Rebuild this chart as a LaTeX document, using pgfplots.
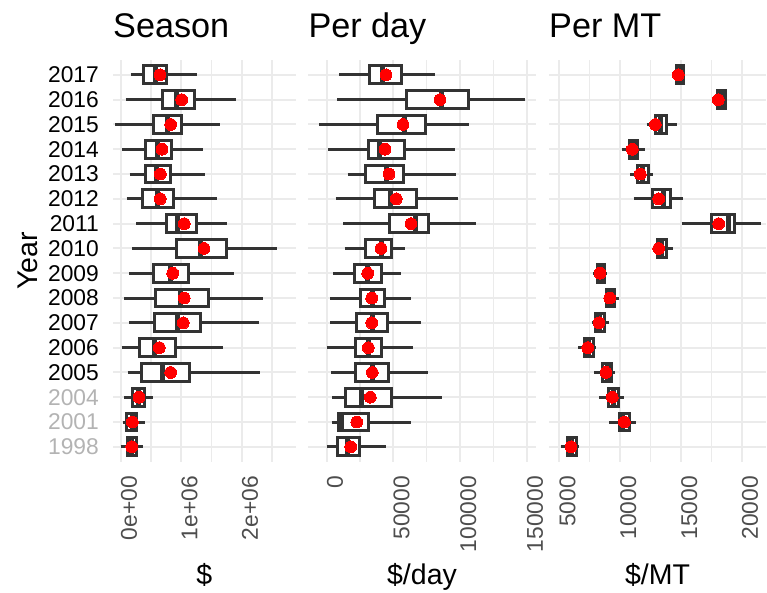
\documentclass[border=0pt]{standalone}
\usepackage{fontspec}
\setmainfont{Liberation Sans}
\usepackage{pgfplots}
\pgfplotsset{compat=1.18}
\usepackage{pgfplotstable}

\definecolor{gridc}{HTML}{EBEBEB}
\definecolor{boxc}{HTML}{333333}
\definecolor{ticktxt}{HTML}{4D4D4D}
\definecolor{oldyr}{HTML}{B3B3B3}

% Season totals, in millions of dollars
\pgfplotstableread{
year pos lw     lq    med   uq    uw    mean
2017 16  0.165  0.369 0.567 0.760 1.256 0.650
2016 15  0.083  0.699 0.926 1.217 1.901 1.008
2015 14 -0.094  0.550 0.777 1.008 1.641 0.826
2014 13  0.026  0.407 0.612 0.836 1.355 0.683
2013 12  0.149  0.418 0.595 0.826 1.398 0.655
2012 11  0.099  0.357 0.605 0.869 1.587 0.655
2011 10  0.253  0.754 0.942 1.245 1.757 1.051
2010 9   0.192  0.919 1.311 1.745 2.579 1.377
2009 8   0.142  0.550 0.815 1.129 1.878 0.860
2008 7   0.060  0.583 0.992 1.448 2.357 1.051
2007 6   0.137  0.555 0.936 1.322 2.291 1.035
2006 5   0.017  0.314 0.555 0.902 1.691 0.638
2005 4   0.116  0.341 0.688 1.140 2.302 0.826
2004 3   0.060  0.192 0.291 0.390 0.539 0.302
2001 2   0.033  0.104 0.192 0.264 0.402 0.192
1998 1   0.000  0.109 0.182 0.253 0.374 0.182
}\season

% Dollars per day
\pgfplotstableread{
year pos lw    lq    med   uq     uw     mean
2017 16  9225  31725 42000 55950  81225  44475
2016 15  7725  60000 86250 106200 148950 84975
2015 14 -5775  37725 58200 73950  106500 57225
2014 13  1200  30975 39450 58500  96450  43725
2013 12  15750 28950 45000 57750  96975  46725
2012 11  6750  36000 48000 66975  98250  52200
2011 10  12450 46725 66750 76200  111750 63225
2010 9   13500 29250 40725 48750  58500  40725
2009 8   4725  20700 30750 40950  55500  30750
2008 7   2475  25200 33975 42975  63000  33750
2007 6   2700  22200 33975 45450  70950  33750
2006 5   450   21450 31200 41250  64950  31200
2005 4   3450  21225 34200 45975  76200  34200
2004 3   4200  14250 25725 48225  86250  32700
2001 2   3750  8700  11250 31200  63000  22500
1998 1   225   7725  15750 24450  44475  18000
}\perday

% Dollars per metric tonne
\pgfplotstableread{
year pos lw    lq    med   uq    uw    mean
2017 16  14540 14655 14926 15198 15362 14787
2016 15  17805 18027 18298 18627 18767 18076
2015 14  12188 12895 13306 13833 14655 12895
2014 13  10181 10757 11119 11448 12023 11004
2013 12  10814 11415 11826 12319 12730 11661
2012 11  11119 12648 13553 14104 15173 13175
2011 10  15066 17533 18950 19367 21588 18109
2010 9   12870 13035 13388 13775 14326 13175
2009 8   7796  8158  8405  8701  8898  8347
2008 7   8758  8898  9194  9523  9934  9145
2007 6   7665  7994  8323  8676  9063  8265
2006 5   6563  7031  7385  7796  8018  7336
2005 4   7854  8569  8948  9309  9581  8841
2004 3   8265  9030  9441  9852  10346 9359
2001 2   9088  9934  10214 10790 11308 10346
1998 1   5115  5691  6020  6431  6620  5962
}\permt

\newcommand{\ticksize}{\fontsize{22.8}{26}\selectfont}
\newcommand{\labsize}{\fontsize{28.5}{33}\selectfont}
\newcommand{\titlesize}{\fontsize{34.2}{40}\selectfont}

\pgfplotsset{
  panel/.style={
    scale only axis,
    height=401.7pt,
    ymin=0.4, ymax=16.6,
    ytick={1,...,16},
    axis line style={draw=none},
    tick style={draw=none},
    major tick length=0pt, minor tick length=0pt,
    xmajorgrids, xminorgrids, ymajorgrids,
    major grid style={draw=gridc, line width=2pt},
    minor grid style={draw=gridc, line width=1.2pt},
    scaled x ticks=false,
    xticklabel style={rotate=90, anchor=north east, inner sep=0pt,
      font=\ticksize, text=ticktxt},
    xticklabel shift=14.3pt,
    yticklabel style={anchor=east, inner sep=0pt, font=\ticksize, text=black},
    yticklabel shift=14pt,
    every axis plot/.append style={line width=3pt},
  },
}

% half the box thickness, in category units
\def\halfbox{0.36}

% one horizontal box from row #2 of table #1: whiskers, box, median
\newcommand{\boxrow}[2]{%
  \pgfplotstablegetelem{#2}{pos}\of#1\let\vpos\pgfplotsretval
  \pgfplotstablegetelem{#2}{lw}\of#1\let\vlw\pgfplotsretval
  \pgfplotstablegetelem{#2}{lq}\of#1\let\vlq\pgfplotsretval
  \pgfplotstablegetelem{#2}{med}\of#1\let\vmed\pgfplotsretval
  \pgfplotstablegetelem{#2}{uq}\of#1\let\vuq\pgfplotsretval
  \pgfplotstablegetelem{#2}{uw}\of#1\let\vuw\pgfplotsretval
  \pgfmathsetmacro\ylo{\vpos-\halfbox}%
  \pgfmathsetmacro\yhi{\vpos+\halfbox}%
  \edef\doboxplot{%
    \noexpand\addplot[draw=boxc, line width=3pt, mark=none]
      coordinates {(\vlw,\vpos) (\vlq,\vpos)};
    \noexpand\addplot[draw=boxc, line width=3pt, mark=none]
      coordinates {(\vuq,\vpos) (\vuw,\vpos)};
    \noexpand\addplot[draw=boxc, fill=white, line width=3pt, line join=miter, mark=none]
      coordinates {(\vlq,\ylo) (\vuq,\ylo) (\vuq,\yhi) (\vlq,\yhi)} -- cycle;
    \noexpand\addplot[draw=boxc, line width=5pt, mark=none]
      coordinates {(\vmed,\ylo) (\vmed,\yhi)};
  }%
  \doboxplot
}
% all years of one table, then the red means on top
\newcommand{\boxes}[1]{%
  \pgfplotsinvokeforeach{0,...,15}{\boxrow{#1}{##1}}
  \addplot[only marks, mark=*, mark size=5.9pt, color=red,
    mark options={draw=red, fill=red, line width=0pt}]
    table[x=mean, y=pos] {#1};
}

\begin{document}
\begin{tikzpicture}
\path[use as bounding box] (0,0) rectangle (767pt,592pt);

\begin{axis}[panel, at={(113pt,130.3pt)}, anchor=south west,
  width=182.7pt, xmin=-0.1273, xmax=2.893,
  xtick={0,1,2}, minor xtick={0.5,1.5,2.5},
  xticklabels={0e+00,1e+06,2e+06},
  yticklabels={\textcolor{oldyr}{1998},\textcolor{oldyr}{2001},\textcolor{oldyr}{2004},
    2005,2006,2007,2008,2009,2010,2011,2012,2013,2014,2015,2016,2017}]
\boxes{\season}
\end{axis}

\begin{axis}[panel, at={(308.3pt,130.3pt)}, anchor=south west,
  width=227.4pt, xmin=-13800, xmax=156750,
  xtick={0,50000,100000,150000}, minor xtick={25000,75000,125000},
  xticklabels={0,50000,100000,150000},
  yticklabels={}]
\boxes{\perday}
\end{axis}

\begin{axis}[panel, at={(549pt,130.3pt)}, anchor=south west,
  width=217pt, xmin=4153, xmax=21999,
  xtick={5000,10000,15000,20000}, minor xtick={7500,12500,17500},
  xticklabels={5000,10000,15000,20000},
  yticklabels={}]
\boxes{\permt}
\end{axis}

% panel titles
\node[anchor=base west, inner sep=0pt, font=\titlesize] at (113pt,554pt) {Season};
\node[anchor=base west, inner sep=0pt, font=\titlesize] at (308.3pt,554pt) {Per day};
\node[anchor=base west, inner sep=0pt, font=\titlesize] at (549pt,554pt) {Per MT};

% axis titles
\node[anchor=base, inner sep=0pt, font=\labsize] at (204.3pt,8pt) {\$};
\node[anchor=base, inner sep=0pt, font=\labsize] at (422pt,8pt) {\$/day};
\node[anchor=base, inner sep=0pt, font=\labsize] at (657.5pt,8pt) {\$/MT};
\node[anchor=base, inner sep=0pt, rotate=90, font=\labsize] at (37pt,331.1pt) {Year};
\end{tikzpicture}
\end{document}
